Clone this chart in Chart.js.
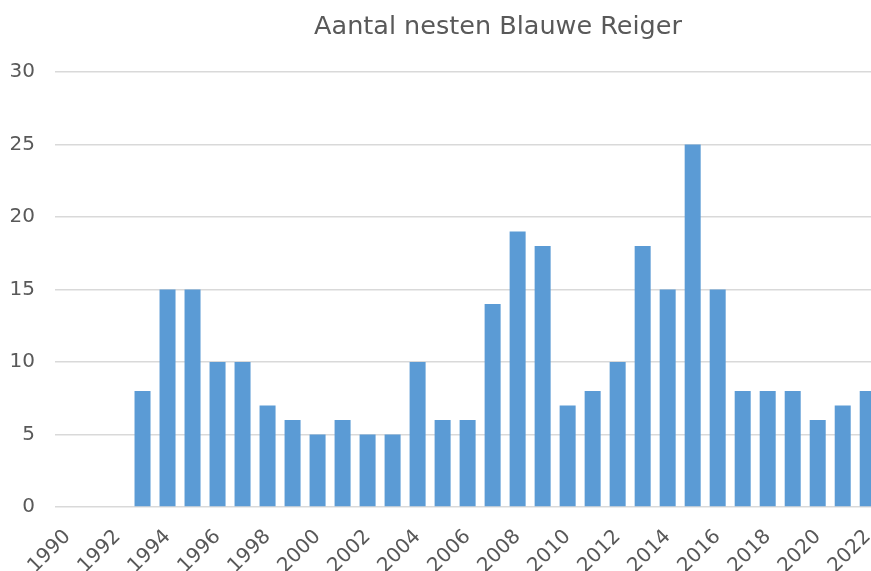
<!DOCTYPE html>
<html>
<head>
<meta charset="utf-8">
<script src="https://cdn.jsdelivr.net/npm/chart.js@4"></script>
<style>
  html, body { margin: 0; padding: 0; background: #fff; overflow: hidden; }
  #wrap { position: relative; width: 903px; height: 571px; }
</style>
</head>
<body>
<div id="wrap"><canvas id="chart"></canvas></div>
<script>
// Data
const chartTitle = 'Aantal nesten Blauwe Reiger';
const years = [
  '1990', '1991', '1992', '1993', '1994', '1995', '1996', '1997', '1998', '1999',
  '2000', '2001', '2002', '2003', '2004', '2005', '2006', '2007', '2008', '2009',
  '2010', '2011', '2012', '2013', '2014', '2015', '2016', '2017', '2018', '2019',
  '2020', '2021', '2022'
];
const nests = [
  null, null, null, 8, 15, 15, 10, 10, 7, 6,
  5, 6, 5, 5, 10, 6, 6, 14, 19, 18,
  7, 8, 10, 18, 15, 25, 15, 8, 8, 8,
  6, 7, 8
];
const yTicks = [0, 5, 10, 15, 20, 25, 30];

const textColor = '#595959';
const fontFamily = '"DejaVu Sans", Verdana, sans-serif';

// titel zelf tekenen, zodat hij op dezelfde plek staat als in het origineel
const titlePlugin = {
  id: 'titleText',
  afterDraw(chart) {
    const ctx = chart.ctx;
    ctx.save();
    ctx.fillStyle = textColor;
    ctx.font = '25.5px ' + fontFamily;
    ctx.textAlign = 'center';
    ctx.textBaseline = 'middle';
    ctx.fillText(chartTitle, 498, 27);
    ctx.restore();
  }
};

new Chart(document.getElementById('chart'), {
  type: 'bar',
  data: {
    labels: years,
    datasets: [{
      label: chartTitle,
      data: nests,
      backgroundColor: '#5B9BD5',
      borderWidth: 0,
      categoryPercentage: 0.64,
      barPercentage: 1.0
    }]
  },
  plugins: [titlePlugin],
  options: {
    responsive: true,
    maintainAspectRatio: false,
    animation: false,
    layout: { padding: { top: 72, right: 20, left: 0, bottom: 0 } },
    plugins: {
      legend: { display: false },
      title: { display: false },
      tooltip: { enabled: false }
    },
    scales: {
      x: {
        grid: { display: false, drawTicks: false },
        border: { display: false },
        ticks: {
          color: textColor,
          font: { family: fontFamily, size: 20 },
          autoSkip: false,
          maxRotation: 45,
          minRotation: 45,
          padding: 18,
          callback: function (value, index) {
            return index % 2 === 0 ? years[index] : '';
          }
        },
        afterFit: function (scale) { scale.height = 64; }
      },
      y: {
        min: 0,
        max: 30,
        grid: { color: '#d9d9d9', lineWidth: 1.5, drawTicks: false },
        border: { display: false },
        afterBuildTicks: function (scale) {
          scale.ticks = yTicks.map(v => ({ value: v }));
        },
        ticks: {
          color: textColor,
          font: { family: fontFamily, size: 20 },
          padding: 20
        },
        afterFit: function (scale) { scale.width = 55; }
      }
    }
  }
});
</script>
</body>
</html>
